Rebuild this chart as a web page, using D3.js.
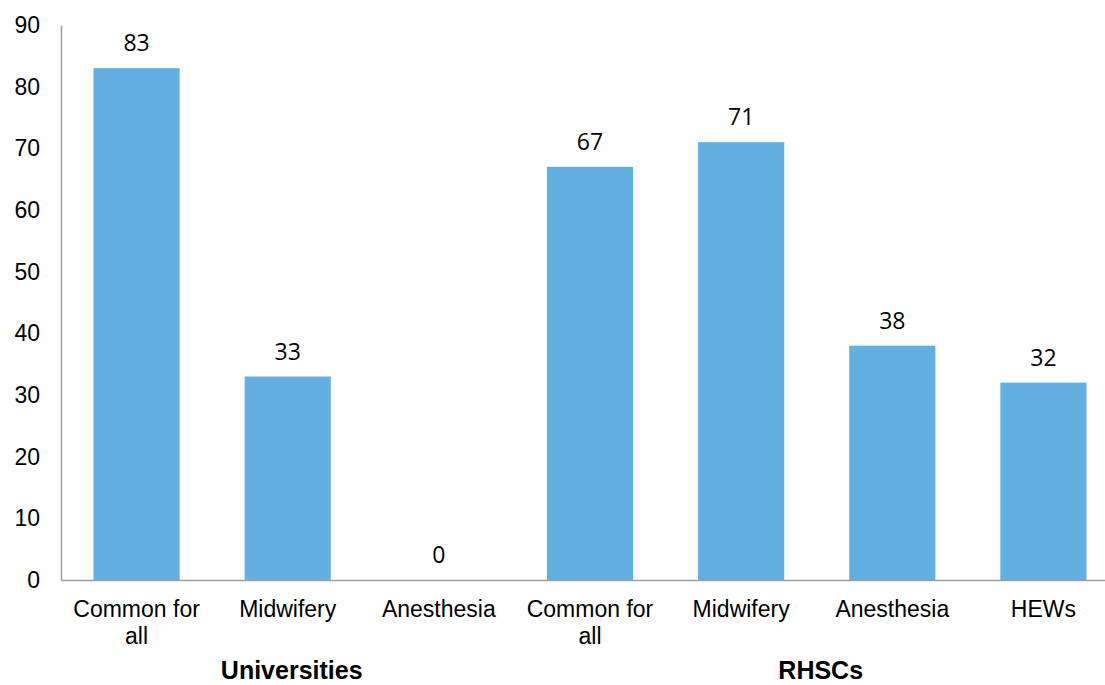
<!DOCTYPE html>
<html>
<head>
<meta charset="utf-8">
<script src="https://cdn.jsdelivr.net/npm/d3@7/dist/d3.min.js"></script>
<style>
  html, body { margin: 0; padding: 0; background: #fff; }
  svg { display: block; }
</style>
</head>
<body>
<svg id="chart" width="1105" height="685"></svg>
<script>
// Category labels (line breaks marked with "|"), group membership and values
const categories = ["Common for|all", "Midwifery", "Anesthesia", "Common for|all", "Midwifery", "Anesthesia", "HEWs"];
const groups = ["Universities", "Universities", "Universities", "RHSCs", "RHSCs", "RHSCs", "RHSCs"];
const values = [83, 33, 0, 67, 71, 38, 32];
const groupNames = ["Universities", "RHSCs"];
const yTicks = [0, 10, 20, 30, 40, 50, 60, 70, 80, 90];

const svg = d3.select("#chart");
const plotLeft = 61, plotRight = 1119, plotTop = 25, plotBottom = 580;
const labelFont = "'Liberation Sans', Arial, sans-serif";

const idx = d3.range(values.length);
const x = d3.scaleBand().domain(idx).range([plotLeft, plotRight]).padding(0);
const y = d3.scaleLinear().domain([0, 90]).range([plotBottom, plotTop]);
const barW = x.bandwidth() * 0.57;

// Bars
svg.append("g").selectAll("rect")
  .data(idx)
  .join("rect")
  .attr("x", i => x(i) + (x.bandwidth() - barW) / 2)
  .attr("y", i => y(values[i]))
  .attr("width", barW)
  .attr("height", i => y(0) - y(values[i]))
  .attr("fill", "#62b0e0");

// Value labels
svg.append("g").selectAll("text")
  .data(idx)
  .join("text")
  .attr("x", i => x(i) + x.bandwidth() / 2)
  .attr("y", i => y(values[i]) - 17)
  .attr("text-anchor", "middle")
  .attr("font-family", "'Open Sans', sans-serif")
  .attr("font-size", 23)
  .attr("fill", "#000")
  .text(i => values[i]);

// Y axis: line and labels only
const yAxis = svg.append("g")
  .attr("transform", `translate(${plotLeft},0)`)
  .call(d3.axisLeft(y).tickValues(yTicks).tickSize(0).tickPadding(21));
yAxis.select(".domain").attr("stroke", "#a0a0a0").attr("stroke-width", 1.5);
yAxis.selectAll("text")
  .attr("font-family", labelFont)
  .attr("font-size", 23)
  .attr("fill", "#000");

// X axis baseline and category labels
const xAxis = svg.append("g")
  .attr("transform", `translate(0,${plotBottom})`)
  .call(d3.axisBottom(x).tickSize(0).tickFormat(() => ""));
xAxis.select(".domain").attr("stroke", "#a0a0a0").attr("stroke-width", 1.5);

const catLabels = svg.append("g").selectAll("text")
  .data(idx)
  .join("text")
  .attr("x", i => x(i) + x.bandwidth() / 2)
  .attr("y", plotBottom + 37)
  .attr("text-anchor", "middle")
  .attr("font-family", labelFont)
  .attr("font-size", 23)
  .attr("fill", "#000");
catLabels.each(function(i) {
  const lines = categories[i].split("|");
  d3.select(this).selectAll("tspan")
    .data(lines)
    .join("tspan")
    .attr("x", x(i) + x.bandwidth() / 2)
    .attr("dy", (d, k) => k === 0 ? 0 : 27)
    .text(d => d);
});

// Group labels centred under their categories
svg.append("g").selectAll("text")
  .data(groupNames)
  .join("text")
  .attr("x", g => {
    const members = idx.filter(i => groups[i] === g);
    return (x(members[0]) + x(members[members.length - 1]) + x.bandwidth()) / 2 + 4;
  })
  .attr("y", plotBottom + 99)
  .attr("text-anchor", "middle")
  .attr("font-family", labelFont)
  .attr("font-weight", "bold")
  .attr("font-size", 25)
  .attr("fill", "#000")
  .text(g => g);
</script>
</body>
</html>
